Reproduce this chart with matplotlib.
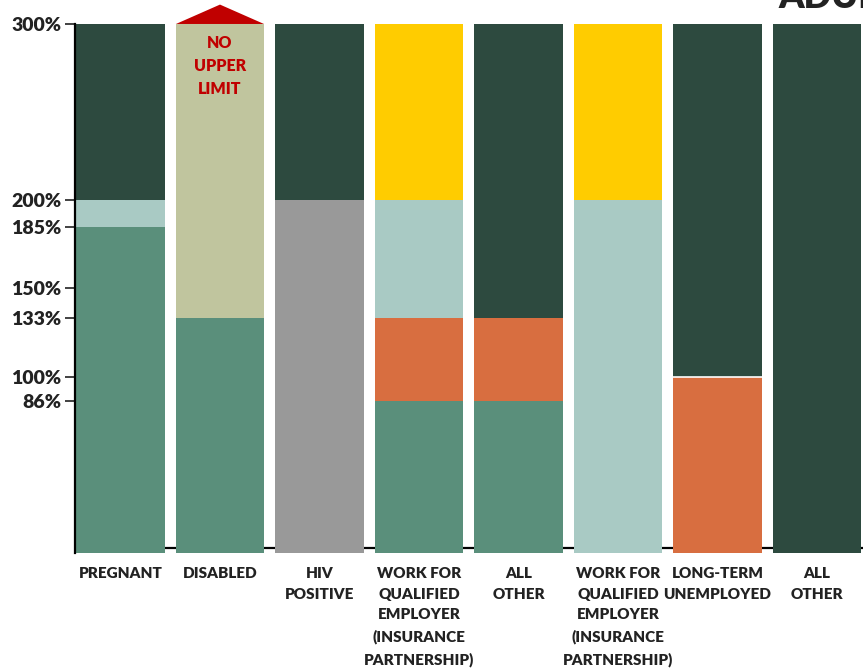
import matplotlib
matplotlib.use("Agg")
import matplotlib.pyplot as plt

plt.rcParams['font.family'] = ['Lato', 'DejaVu Sans']

# category labels along the bottom
categories = ["PREGNANT", "DISABLED", "HIV\nPOSITIVE",
              "WORK FOR\nQUALIFIED\nEMPLOYER\n(INSURANCE\nPARTNERSHIP)",
              "ALL\nOTHER",
              "WORK FOR\nQUALIFIED\nEMPLOYER\n(INSURANCE\nPARTNERSHIP)",
              "LONG-TERM\nUNEMPLOYED", "ALL\nOTHER"]

# segment boundaries (% of poverty level) for each bar, bottom to top
levels = [
    [0, 185, 200, 300],
    [0, 133, 300],
    [0, 200, 300],
    [0, 86, 133, 200, 300],
    [0, 86, 133, 300],
    [0, 200, 300],
    [0, 100, 300],
    [0, 133, 300],
]

dark = "#2d4a3f"
green = "#5a8f7b"
teal = "#a9cac4"
khaki = "#c0c59e"
grey = "#999999"
orange = "#d86e40"
yellow = "#ffcc00"

seg_colors = [
    [green, teal, dark],
    [green, khaki],
    [grey, dark],
    [green, orange, teal, yellow],
    [green, orange, dark],
    [teal, yellow],
    [orange, dark],
    [dark, dark],
]

yticks = [86, 100, 133, 150, 185, 200, 300]

fig = plt.figure(figsize=(8.63, 6.70), dpi=100)
ax = fig.add_axes([75 / 863, 117 / 670, 788 / 863, 553 / 670])

width = 0.885
for i, (lv, cols) in enumerate(zip(levels, seg_colors)):
    for j, c in enumerate(cols):
        lo, hi = lv[j], lv[j + 1]
        ax.bar(i, hi - lo, bottom=lo, width=width, color=c,
               linewidth=0, zorder=3)

# thin white divider on the long-term unemployed bar
ax.hlines(levels[6][1], 6 - width / 2, 6 + width / 2, color="white",
          lw=1.2, zorder=4)

# red "no upper limit" arrow on the disabled bar
top = levels[1][-1]
ax.fill([1 - width / 2, 1, 1 + width / 2], [top, top + 11, top],
        color="#c00000", zorder=4, clip_on=False, linewidth=0)
ax.text(1, 294, "NO\nUPPER\nLIMIT", ha="center", va="top", color="#c00000",
        fontsize=11.5, fontweight="heavy", linespacing=1.55, zorder=5)

# baseline drawn slightly above zero, behind the bars
ax.axhline(2.8, color="black", lw=1.6, zorder=2)

ax.set_xlim(-0.457, 7.462)
ax.set_ylim(0, 313.6)
for s in ["top", "right", "bottom"]:
    ax.spines[s].set_visible(False)
ax.spines["left"].set_bounds(0, 300)
ax.spines["left"].set_linewidth(1.6)
ax.spines["left"].set_zorder(6)

ax.set_yticks(yticks)
ax.set_yticklabels([f"{v}%" for v in yticks], fontsize=14,
                   fontweight="heavy", color="#222222")
ax.tick_params(axis="y", length=7, width=1.3, color="#333333", pad=3)

ax.set_xticks(range(len(categories)))
ax.set_xticklabels(categories, fontsize=11, fontweight="heavy",
                   color="#222222", linespacing=1.7, va="top")
ax.tick_params(axis="x", length=0, pad=10)

# title cut off at the top right in the original
fig.text(778 / 863, 1 - 8 / 670, "ADULTS", fontsize=26, fontweight="heavy",
         color="#222222", ha="left", va="baseline")

fig.savefig("out.png", dpi=100)
